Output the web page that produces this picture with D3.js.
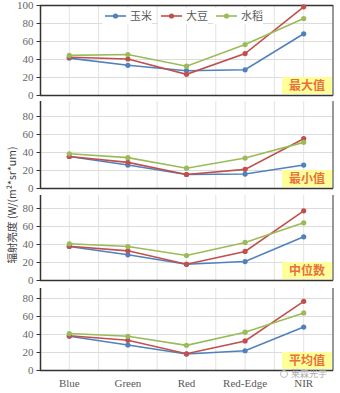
<!DOCTYPE html>
<html><head><meta charset="utf-8">
<script src="https://cdn.jsdelivr.net/npm/d3@7"></script>
<style>html,body{margin:0;padding:0;background:#fff;}svg{display:block;}</style>
</head><body>
<script>
const categories = ["Blue", "Green", "Red", "Red-Edge", "NIR"];
const seriesNames = ["玉米", "大豆", "水稻"];
const seriesColors = ["#4f81bd", "#c0504d", "#9bbb59"];
const panelLabels = ["最大值", "最小值", "中位数", "平均值"];
const yTicks = [0, 20, 40, 60, 80, 100];

const maxCorn = [41, 33, 27, 28, 68];
const maxSoy  = [42, 40, 23, 46, 98];
const maxRice = [44, 45, 32, 56, 85];

const minCorn = [35, 25.5, 15, 15.5, 25.5];
const minSoy  = [35, 28.5, 15, 20.7, 54.8];
const minRice = [38, 33.7, 22, 33.3, 50.7];

const medCorn = [37.2, 28, 17.5, 20.5, 48];
const medSoy  = [37.5, 32.4, 17.5, 31.7, 76.9];
const medRice = [40.2, 37.2, 27.2, 41.7, 63.5];

const meanCorn = [37.5, 27.8, 17.7, 21.4, 47.7];
const meanSoy  = [38, 33, 18, 32.3, 76.3];
const meanRice = [40.5, 37.5, 27.4, 42, 63.4];

const panelData = [
  [maxCorn, maxSoy, maxRice],
  [minCorn, minSoy, minRice],
  [medCorn, medSoy, medRice],
  [meanCorn, meanSoy, meanRice]
];

const W = 340, H = 393;
const left = 40, right = 333;
const bottoms = [95, 188, 280, 370];
const plotH = 90;
const axisTops = [5, 101, 195, 288];

const svg = d3.select("body").append("svg").attr("width", W).attr("height", H);

const x = d3.scalePoint().domain(categories).range([left, right]).padding(0.5);
const step = x.step();
const gridXs = [];
for (let i = 1; i < categories.length * 2; i++) gridXs.push(left + i * step / 2);

const serif = "'Liberation Serif','DejaVu Serif',serif";
const cjk = "'Noto Sans CJK SC','Noto Sans',sans-serif";

panelData.forEach((series, pi) => {
  const b = bottoms[pi];
  const y = d3.scaleLinear().domain([0, 100]).range([b, b - plotH]);
  const g = svg.append("g");
  const top = axisTops[pi];

  g.selectAll(".vg").data(gridXs).join("line")
    .attr("x1", d => d).attr("x2", d => d)
    .attr("y1", Math.max(top, y(100))).attr("y2", b)
    .attr("stroke", "#e3e3e3").attr("stroke-width", 1);
  g.selectAll(".hg").data(yTicks.filter(t => t > 0 && (pi === 0 ? t < 100 : t <= 80))).join("line")
    .attr("x1", left).attr("x2", right)
    .attr("y1", d => y(d) + 0.5).attr("y2", d => y(d) + 0.5)
    .attr("stroke", "#dcdcdc").attr("stroke-width", 1);

  const ticks = pi === 0 ? yTicks : yTicks.filter(t => t <= 80);
  const ax = d3.axisLeft(y).tickValues(ticks).tickSize(4).tickPadding(3).tickFormat(d3.format("d"));
  const ag = g.append("g").attr("transform", `translate(${left + 0.5},0)`).call(ax);
  ag.select(".domain").remove();
  ag.selectAll("line").attr("stroke", "#333");
  ag.selectAll("text").attr("font-family", serif).attr("font-size", 11).attr("fill", "#666");

  g.append("line").attr("x1", left + 0.5).attr("x2", left + 0.5).attr("y1", top).attr("y2", b + 0.5)
    .attr("stroke", "#333").attr("stroke-width", 1.5);
  g.append("line").attr("x1", left).attr("x2", right).attr("y1", b + 0.5).attr("y2", b + 0.5)
    .attr("stroke", "#333").attr("stroke-width", 1.5);
  g.append("line").attr("x1", right).attr("x2", right).attr("y1", top).attr("y2", b + 0.5)
    .attr("stroke", "#555").attr("stroke-width", 1.2);
  if (pi === 0) {
    g.append("line").attr("x1", left).attr("x2", right).attr("y1", top + 0.5).attr("y2", top + 0.5)
      .attr("stroke", "#333").attr("stroke-width", 1.5);
  }

  const bw = 50, bh = 17;
  g.append("rect").attr("x", right - bw - 1).attr("y", b - bh - 1).attr("width", bw).attr("height", bh)
    .attr("fill", "#ffff99");
  g.append("text").attr("x", right - bw / 2 - 1).attr("y", b - 5.5)
    .attr("text-anchor", "middle").attr("font-family", cjk).attr("font-size", 12).attr("font-weight", "bold")
    .attr("fill", "#e8703f").text(panelLabels[pi]);

  const line = d3.line().x((d, i) => x(categories[i])).y(d => y(d));
  series.forEach((vals, si) => {
    g.append("path").datum(vals).attr("d", line).attr("fill", "none")
      .attr("stroke", seriesColors[si]).attr("stroke-width", 1.6);
    g.selectAll(".pt" + si).data(vals).join("circle")
      .attr("cx", (d, i) => x(categories[i])).attr("cy", d => y(d)).attr("r", 2.6)
      .attr("fill", seriesColors[si]);
  });
});

svg.selectAll(".cat").data(categories).join("text")
  .attr("x", d => x(d)).attr("y", 387).attr("text-anchor", "middle")
  .attr("font-family", serif).attr("font-size", 11).attr("fill", "#595959").text(d => d);

const legX = [105, 161, 216];
seriesNames.forEach((n, i) => {
  const lg = svg.append("g").attr("transform", `translate(${legX[i]},16)`);
  lg.append("rect").attr("x", -3).attr("y", -8).attr("width", 50).attr("height", 16).attr("fill", "#fff");
  lg.append("line").attr("x1", 0).attr("x2", 21).attr("y1", 0).attr("y2", 0)
    .attr("stroke", seriesColors[i]).attr("stroke-width", 1.6);
  lg.append("circle").attr("cx", 10.5).attr("cy", 0).attr("r", 2.6).attr("fill", seriesColors[i]);
  lg.append("text").attr("x", 25).attr("y", 4).attr("font-family", cjk).attr("font-size", 11)
    .attr("fill", "#595959").text(n);
});

svg.append("text").attr("transform", "translate(16,205) rotate(-90)").attr("text-anchor", "middle")
  .attr("font-family", cjk).attr("font-size", 10.5).attr("fill", "#404040")
  .text("辐射亮度 (W/(m²*sr*um)");

svg.append("circle").attr("cx", 284).attr("cy", 374).attr("r", 3.5).attr("fill", "none").attr("stroke", "#bbb").attr("stroke-width", 1);
svg.append("text").attr("x", 291).attr("y", 377).attr("font-family", cjk).attr("font-size", 9)
  .attr("fill", "#aaa").text("莱森光学");
</script>
</body></html>
